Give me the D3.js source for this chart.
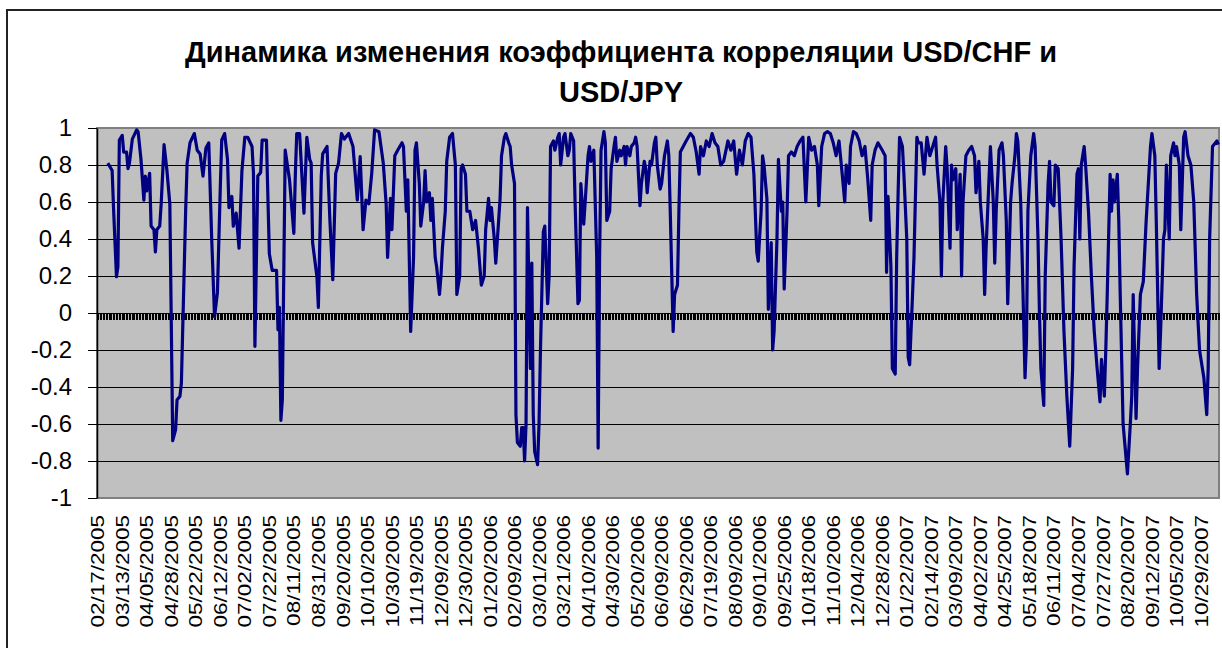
<!DOCTYPE html>
<html>
<head>
<meta charset="utf-8">
<script src="https://cdn.jsdelivr.net/npm/d3@7"></script>
<style>
body { margin: 0; background: #fff; }
text { font-family: "Liberation Sans", Arial, sans-serif; }
</style>
</head>
<body>
<div id="chart"></div>
<script>
// chart texts
var titleLines = ["Динамика изменения коэффициента корреляции USD/CHF и", "USD/JPY"];

// category labels, one every labelStep categories
var dateLabels = ["02/17/2005","03/13/2005","04/05/2005","04/28/2005","05/22/2005","06/12/2005",
    "07/02/2005","07/22/2005","08/11/2005","08/31/2005","09/20/2005","10/10/2005","10/30/2005",
    "11/19/2005","12/09/2005","12/30/2005","01/20/2006","02/09/2006","03/01/2006","03/21/2006",
    "04/10/2006","04/30/2006","05/20/2006","06/09/2006","06/29/2006","07/19/2006","08/09/2006",
    "09/01/2006","09/25/2006","10/18/2006","11/10/2006","12/04/2006","12/28/2006","01/22/2007",
    "02/14/2007","03/09/2007","04/02/2007","04/25/2007","05/18/2007","06/11/2007","07/04/2007",
    "07/27/2007","08/20/2007","09/12/2007","10/05/2007","10/29/2007"];
var categoryCount = 778;
var labelStep = 17;

var yTicks = [-1, -0.8, -0.6, -0.4, -0.2, 0, 0.2, 0.4, 0.6, 0.8, 1];

// correlation values: [category index, value] at the turning points of the line
var corrSeries = [
    [7,0.81],[10,0.77],[11,0.56],[13,0.196],[14,0.25],[15,0.935],[17,0.96],[18,0.87],[20,0.87],[21,0.78],
    [22,0.81],[24,0.94],[27,0.99],[28,0.98],[30,0.83],[32,0.61],[33,0.74],[34,0.66],[36,0.755],[37,0.47],
    [39,0.45],[40,0.33],[41,0.45],[43,0.47],[44,0.59],[46,0.91],[48,0.77],[50,0.59],[52,-0.69],[54,-0.63],
    [55,-0.47],[57,-0.45],[58,-0.38],[61,0.56],[62,0.81],[64,0.92],[67,0.97],[69,0.88],[71,0.86],[73,0.74],
    [75,0.89],[77,0.92],[79,0.41],[81,-0.02],[83,0.11],[85,0.68],[86,0.935],[88,0.97],[90,0.83],[91,0.57],
    [93,0.63],[94,0.47],[96,0.54],[98,0.35],[100,0.77],[102,0.95],[104,0.95],[107,0.90],[108,0.755],[109,-0.18],
    [111,0.74],[113,0.76],[114,0.935],[117,0.935],[119,0.32],[121,0.23],[124,0.23],[125,-0.09],[126,0.03],[127,-0.58],
    [128,-0.47],[130,0.88],[133,0.72],[136,0.43],[137,0.74],[138,0.97],[140,0.97],[143,0.54],[145,0.95],[147,0.83],
    [148,0.81],[149,0.38],[152,0.196],[153,0.03],[155,0.74],[156,0.86],[159,0.90],[161,0.50],[163,0.18],[165,0.755],
    [167,0.81],[169,0.97],[171,0.94],[174,0.97],[177,0.90],[180,0.61],[182,0.845],[184,0.45],[186,0.61],[188,0.59],
    [190,0.755],[192,0.99],[195,0.98],[198,0.81],[200,0.59],[201,0.30],[203,0.62],[204,0.45],[206,0.85],[208,0.88],
    [211,0.92],[212,0.9],[214,0.55],[215,0.72],[217,-0.1],[219,0.3],[220,0.88],[221,0.92],[223,0.7],[224,0.47],
    [226,0.6],[227,0.77],[228,0.6],[230,0.65],[231,0.5],[232,0.62],[234,0.3],[235,0.25],[237,0.1],[238,0.2],
    [239,0.35],[241,0.55],[242,0.82],[244,0.95],[246,0.97],[248,0.8],[249,0.1],[251,0.2],[252,0.78],[253,0.8],
    [255,0.75],[256,0.55],[258,0.55],[260,0.45],[262,0.5],[264,0.35],[266,0.15],[268,0.2],[269,0.45],[271,0.62],
    [272,0.5],[273,0.57],[275,0.4],[276,0.27],[278,0.5],[279,0.62],[280,0.85],[282,0.95],[283,0.97],[285,0.92],
    [286,0.9],[287,0.8],[289,0.7],[290,-0.55],[291,-0.7],[293,-0.72],[294,-0.62],[295,-0.62],[296,-0.8],[297,-0.6],
    [298,0.57],[300,-0.3],[301,0.27],[302,-0.55],[303,-0.75],[305,-0.82],[306,-0.6],[307,-0.2],[309,0.44],[310,0.47],
    [312,0.05],[313,0.2],[314,0.9],[316,0.93],[317,0.88],[319,0.95],[320,0.97],[321,0.8],[323,0.95],[324,0.97],
    [326,0.85],[327,0.88],[328,0.97],[330,0.93],[331,0.6],[333,0.05],[334,0.07],[335,0.7],[337,0.48],[338,0.6],
    [340,0.85],[341,0.9],[342,0.82],[344,0.88],[346,0.3],[347,-0.73],[348,0.3],[349,0.88],[351,0.98],[352,0.92],
    [353,0.5],[355,0.55],[356,0.78],[358,0.9],[359,0.95],[360,0.82],[362,0.88],[363,0.85],[365,0.9],[366,0.8],
    [367,0.9],[369,0.85],[370,0.9],[372,0.92],[373,0.95],[374,0.9],[376,0.58],[377,0.7],[379,0.82],[380,0.78],
    [381,0.65],[383,0.82],[384,0.8],[386,0.92],[387,0.95],[388,0.8],[390,0.67],[391,0.7],[393,0.85],[395,0.93],
    [396,0.85],[397,0.55],[399,-0.1],[400,0.1],[402,0.15],[403,0.55],[404,0.87],[406,0.9],[408,0.93],[411,0.97],
    [413,0.95],[415,0.87],[417,0.75],[418,0.9],[420,0.85],[422,0.93],[424,0.9],[426,0.97],[428,0.92],[430,0.9],
    [432,0.8],[434,0.82],[437,0.93],[439,0.88],[441,0.93],[443,0.75],[445,0.88],[447,0.8],[449,0.93],[451,0.97],
    [453,0.95],[455,0.75],[457,0.33],[458,0.28],[460,0.55],[461,0.85],[462,0.8],[464,0.62],[465,0.02],[467,0.38],
    [468,-0.2],[469,-0.1],[471,0.4],[472,0.83],[474,0.55],[475,0.6],[476,0.13],[478,0.55],[479,0.85],[481,0.87],
    [483,0.85],[485,0.9],[487,0.93],[489,0.95],[491,0.6],[493,0.95],[495,0.88],[497,0.9],[499,0.8],[500,0.58],
    [502,0.9],[504,0.97],[506,0.98],[508,0.97],[510,0.92],[512,0.85],[514,0.93],[516,0.77],[518,0.6],[519,0.8],
    [521,0.7],[522,0.9],[524,0.98],[526,0.97],[528,0.93],[530,0.85],[532,0.9],[534,0.72],[536,0.5],[537,0.8],
    [539,0.88],[541,0.92],[544,0.88],[546,0.85],[547,0.22],[548,0.63],[550,0.25],[551,-0.3],[553,-0.33],[554,0.3],
    [555,0.65],[556,0.95],[558,0.9],[559,0.75],[561,0.4],[562,-0.24],[563,-0.28],[565,0.1],[566,0.3],[568,0.95],
    [569,0.92],[571,0.92],[573,0.75],[575,0.95],[577,0.85],[579,0.9],[581,0.95],[582,0.8],[584,0.6],[585,0.2],
    [586,0.6],[588,0.9],[589,0.78],[591,0.35],[592,0.8],[593,0.72],[595,0.78],[596,0.45],[598,0.75],[599,0.2],
    [600,0.6],[602,0.85],[604,0.88],[606,0.9],[608,0.85],[609,0.65],[611,0.82],[612,0.6],[614,0.4],[615,0.1],
    [616,0.35],[618,0.72],[619,0.9],[621,0.6],[622,0.27],[623,0.55],[625,0.88],[627,0.92],[628,0.85],[630,0.5],
    [631,0.05],[633,0.6],[634,0.7],[636,0.85],[637,0.97],[638,0.93],[640,0.6],[641,0.3],[643,-0.35],[644,-0.15],
    [645,0.55],[647,0.85],[649,0.97],[650,0.9],[652,0.4],[653,0.0],[654,-0.3],[656,-0.5],[657,0.2],[659,0.7],
    [660,0.82],[661,0.6],[663,0.58],[664,0.8],[666,0.78],[668,0.4],[670,-0.1],[672,-0.45],[674,-0.72],[676,-0.3],
    [677,0.25],[678,0.5],[679,0.75],[680,0.78],[681,0.4],[682,0.8],[683,0.85],[684,0.9],[685,0.8],[687,0.55],
    [689,0.2],[691,-0.1],[693,-0.3],[695,-0.48],[696,-0.25],[698,-0.45],[699,-0.2],[700,0.1],[702,0.75],[703,0.55],
    [704,0.72],[705,0.6],[707,0.75],[708,0.5],[709,0.1],[711,-0.6],[714,-0.87],[716,-0.6],
    [717,-0.45],[718,0.1],[720,-0.57],[721,-0.3],[723,0.1],[725,0.17],[727,0.5],[730,0.9],[731,0.97],[733,0.85],
    [734,0.5],[736,-0.3],[737,-0.1],[739,0.4],[740,0.45],[741,0.8],[743,0.4],[744,0.85],[746,0.92],[747,0.85],
    [748,0.9],[750,0.8],[751,0.45],[753,0.95],[754,0.98],[756,0.85],[758,0.8],[760,0.6],[762,0.1],[764,-0.2],
    [767,-0.35],[769,-0.55],[770,-0.3],[771,0.4],[773,0.9],[776,0.93],[777,0.91]
];

var width = 1222, height = 648;
var plot = {left: 97, right: 1219, top: 128, bottom: 498};

var svg = d3.select("#chart").append("svg")
    .attr("width", width)
    .attr("height", height);

svg.append("rect").attr("width", width).attr("height", height).attr("fill", "#fff");

// outer chart frame
svg.append("rect")
    .attr("x", 7).attr("y", 10)
    .attr("width", 1300).attr("height", 700)
    .attr("fill", "none")
    .attr("stroke", "#222")
    .attr("stroke-width", 2);

// title
svg.selectAll(".title")
    .data(titleLines)
    .enter().append("text")
    .attr("class", "title")
    .attr("x", 621)
    .attr("y", function (d, i) { return 62 + i * 40; })
    .attr("text-anchor", "middle")
    .style("font-size", "29px")
    .style("font-weight", "bold")
    .text(function (d) { return d; });

var x = d3.scaleLinear().domain([0, categoryCount]).range([plot.left, plot.right]);
var y = d3.scaleLinear().domain([-1, 1]).range([plot.bottom, plot.top]);

// plot area
svg.append("rect")
    .attr("x", plot.left).attr("y", plot.top)
    .attr("width", plot.right - plot.left)
    .attr("height", plot.bottom - plot.top)
    .attr("fill", "#c0c0c0")
    .attr("stroke", "#808080")
    .attr("stroke-width", 2);

// gridlines
svg.selectAll(".grid")
    .data(yTicks.filter(function (d) { return Math.abs(d) < 0.99 && d !== 0; }))
    .enter().append("line")
    .attr("class", "grid")
    .attr("x1", plot.left).attr("x2", plot.right)
    .attr("y1", function (d) { return Math.round(y(d)) + 0.5; })
    .attr("y2", function (d) { return Math.round(y(d)) + 0.5; })
    .attr("stroke", "#000")
    .attr("stroke-width", 1);

// y axis
var yAxis = svg.append("g")
    .attr("transform", "translate(" + plot.left + ",0)")
    .call(d3.axisLeft(y).tickValues(yTicks).tickSize(9).tickSizeOuter(0).tickPadding(16)
        .tickFormat(function (d) { return String(d); }));
yAxis.selectAll("text").style("font-size", "24px").attr("fill", "#000");
yAxis.selectAll("line").attr("stroke", "#000");
yAxis.select(".domain").attr("stroke", "#000").attr("stroke-width", 1.5);

// category axis crossing at 0
var xAxis = svg.append("g")
    .attr("transform", "translate(0," + Math.round(y(0)) + ")")
    .call(d3.axisBottom(x).tickValues(d3.range(0, categoryCount + 1)).tickSize(7).tickSizeOuter(0).tickFormat(""));
xAxis.selectAll("line").attr("stroke", "#000").attr("shape-rendering", "crispEdges");
xAxis.select(".domain").attr("stroke", "#000");

// date labels at the bottom
svg.selectAll(".dlabel")
    .data(dateLabels)
    .enter().append("text")
    .attr("class", "dlabel")
    .attr("transform", function (d, i) {
        return "translate(" + x(i * labelStep + 0.5) + ",515) rotate(-90) scale(1,0.84)";
    })
    .attr("text-anchor", "end")
    .attr("dy", "0.35em")
    .style("font-size", "22.5px")
    .text(function (d) { return d; });

// correlation line
var line = d3.line()
    .x(function (d) { return x(d[0] + 0.5); })
    .y(function (d) { return y(d[1]); });

svg.append("path")
    .datum(corrSeries)
    .attr("d", line)
    .attr("fill", "none")
    .attr("stroke", "#000080")
    .attr("stroke-width", 3.2)
    .attr("stroke-linejoin", "round");
</script>
</body>
</html>
